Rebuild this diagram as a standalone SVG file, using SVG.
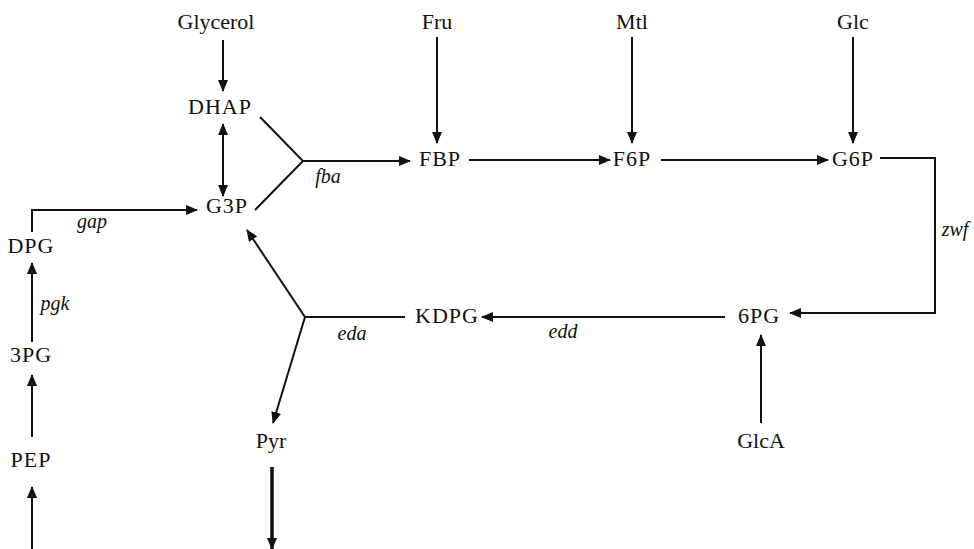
<svg xmlns="http://www.w3.org/2000/svg" width="974" height="549" viewBox="0 0 974 549">
<style>
text{font-family:"Liberation Serif","Times New Roman",serif;font-size:22px;fill:#111;text-anchor:middle;letter-spacing:1px}
.l{letter-spacing:0}
.e{font-style:italic;font-size:20px;letter-spacing:0}
.c{fill:none;stroke:#111;stroke-width:2}
.t{stroke-width:3.5}
</style>
<defs>
<marker id="a" viewBox="0 0 12 10" refX="11" refY="5" markerWidth="12" markerHeight="10" markerUnits="userSpaceOnUse" orient="auto-start-reverse"><path d="M0,0L12,5L0,10z" fill="#111"/></marker>
</defs>
<rect width="974" height="549" fill="#fff"/>
<g id="connectors">
<path class="c" d="M223,40V91" marker-end="url(#a)"/>
<path class="c" d="M223,124V196" marker-start="url(#a)" marker-end="url(#a)"/>
<path class="c" d="M260,117L303,161L255,210"/>
<path class="c" d="M303,161H410" marker-end="url(#a)"/>
<path class="c" d="M437,37V143" marker-end="url(#a)"/>
<path class="c" d="M469,160H610" marker-end="url(#a)"/>
<path class="c" d="M632,37V143" marker-end="url(#a)"/>
<path class="c" d="M661,160H828" marker-end="url(#a)"/>
<path class="c" d="M853,37V143" marker-end="url(#a)"/>
<path class="c" d="M880,158H935V313H790" marker-end="url(#a)"/>
<path class="c" d="M761,423V335" marker-end="url(#a)"/>
<path class="c" d="M725,317H482" marker-end="url(#a)"/>
<path class="c" d="M405,317H305L247,230" marker-end="url(#a)"/>
<path class="c" d="M305,317L273,423" marker-end="url(#a)"/>
<path class="c t" d="M272,467V549" marker-end="url(#a)"/>
<path class="c" d="M32,232V210H197" marker-end="url(#a)"/>
<path class="c" d="M32,342V263" marker-end="url(#a)"/>
<path class="c" d="M32,437V375" marker-end="url(#a)"/>
<path class="c" d="M32,549V487" marker-end="url(#a)"/>
</g>
<g id="n-glycerol"><text class="l" x="216" y="29">Glycerol</text></g>
<g id="n-dhap"><text x="220" y="114">DHAP</text></g>
<g id="n-g3p"><text x="227" y="213">G3P</text></g>
<g id="n-fru"><text class="l" x="437" y="29">Fru</text></g>
<g id="n-fbp"><text x="440" y="166">FBP</text></g>
<g id="n-mtl"><text class="l" x="632" y="29">Mtl</text></g>
<g id="n-f6p"><text x="632" y="166">F6P</text></g>
<g id="n-glc"><text class="l" x="853" y="29">Glc</text></g>
<g id="n-g6p"><text x="853" y="166">G6P</text></g>
<g id="n-6pg"><text x="759" y="323">6PG</text></g>
<g id="n-glca"><text class="l" x="761" y="448">GlcA</text></g>
<g id="n-kdpg"><text x="447" y="323">KDPG</text></g>
<g id="n-pyr"><text class="l" x="271" y="448">Pyr</text></g>
<g id="n-dpg"><text x="31" y="253">DPG</text></g>
<g id="n-3pg"><text x="31" y="362">3PG</text></g>
<g id="n-pep"><text x="31" y="467">PEP</text></g>
<g id="labels">
<text class="e" x="328" y="183">fba</text>
<text class="e" x="92" y="228">gap</text>
<text class="e" x="55" y="310">pgk</text>
<text class="e" x="352" y="340">eda</text>
<text class="e" x="563" y="338">edd</text>
<text class="e" x="955" y="236">zwf</text>
</g>
</svg>
